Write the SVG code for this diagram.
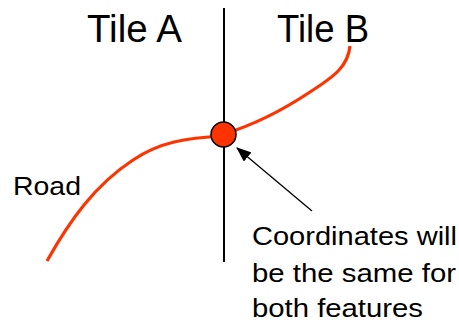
<svg xmlns="http://www.w3.org/2000/svg" width="459" height="322" viewBox="0 0 459 322">
  <style>
    .label { font-family: "Liberation Sans", Arial, sans-serif; fill: #000; }
    .road { fill: none; stroke: #FF3300; stroke-width: 3.2; stroke-linecap: butt; }
    .divider { stroke: #000; stroke-width: 2; }
    .pointer { stroke: #000; stroke-width: 1.3; fill: none; }
  </style>
  <defs>
    <marker id="arrowhead" markerWidth="15" markerHeight="12" refX="14" refY="6" orient="auto" markerUnits="userSpaceOnUse">
      <path d="M0,0 L15,6 L0,12 Z" fill="#000"/>
    </marker>
  </defs>

  <!-- Tile boundary -->
  <g id="tile-boundary">
    <line class="divider" x1="224" y1="8" x2="224" y2="262"/>
  </g>

  <g id="tile-a-title">
    <text class="label" x="87" y="42" font-size="39" textLength="95" lengthAdjust="spacingAndGlyphs">Tile A</text>
  </g>
  <g id="tile-b-title">
    <text class="label" x="277" y="42" font-size="39" textLength="92" lengthAdjust="spacingAndGlyphs">Tile B</text>
  </g>

  <!-- Road crossing both tiles -->
  <g id="road">
    <path class="road" d="M47,261 C70,220 95,185 133,160 C160,142 185,138 224,136"/>
    <path class="road" d="M224,134 C250,126 280,112 310,92 C335,76 348,66 350,46"/>
    <text class="label" x="13" y="195" font-size="25" textLength="68" lengthAdjust="spacingAndGlyphs">Road</text>
  </g>

  <!-- Shared vertex -->
  <g id="shared-vertex">
    <circle cx="223.5" cy="134.5" r="12.5" fill="#FF3300" stroke="#000" stroke-width="1.5"/>
  </g>

  <g id="connectors">
    <line class="pointer" x1="312" y1="211" x2="237" y2="148" marker-end="url(#arrowhead)"/>
  </g>

  <g id="note">
    <text class="label" font-size="25">
      <tspan x="252" y="245" textLength="205" lengthAdjust="spacingAndGlyphs">Coordinates will</tspan>
      <tspan x="252" y="282" textLength="204" lengthAdjust="spacingAndGlyphs">be the same for</tspan>
      <tspan x="252" y="317" textLength="171" lengthAdjust="spacingAndGlyphs">both features</tspan>
    </text>
  </g>
</svg>
